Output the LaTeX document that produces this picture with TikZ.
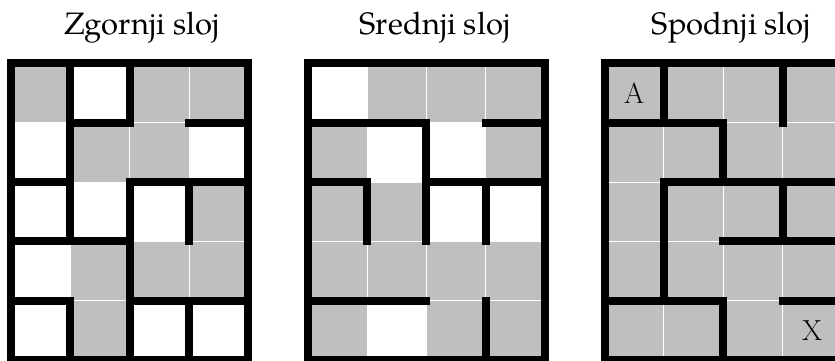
\documentclass[tikz,border=0pt]{standalone}
\usepackage{fontspec}
\newfontfamily\titlefont{texgyrepagella-regular.otf}
\definecolor{cellgray}{RGB}{191,191,191}
\tikzset{
  cellfill/.style={fill=cellgray, draw=white, line width=0.9pt},
  wall/.style={line width=8pt, line cap=rect, draw=black},
  border/.style={line width=8pt, line join=miter, draw=black},
  ttl/.style={anchor=base, inner sep=0pt, font=\titlefont\fontsize{31}{31}\selectfont},
  lbl/.style={inner sep=0pt, font=\fontsize{29}{29}\selectfont}
}
\newcommand{\gcell}[2]{\path[cellfill] (#1,#2) rectangle ++(1,1);}
\begin{document}
\begin{tikzpicture}[x=1pt, y=-1pt]
\useasboundingbox (0,0) rectangle (835,360);
\node[ttl] (t1) at (142,34.5) {Zgornji sloj};
\node[ttl] (t2) at (435,34.5) {Srednji sloj};
\node[ttl] (t3) at (731.5,34.5) {Spodnji sloj};
% Grid 1
\begin{scope}[shift={(11,63.3)}, x=59.35pt, y=-59.35pt]
  \foreach \c/\r in {0/0,2/0,3/0,1/1,2/1,3/2,1/3,2/3,3/3,1/4} {\gcell{\c}{\r}}
  \draw[wall] (1,0)--(1,3) (1,4)--(1,5)
              (2,0)--(2,1) (2,2)--(2,5)
              (3,2)--(3,3) (3,4)--(3,5)
              (1,1)--(2,1) (3,1)--(4,1)
              (0,2)--(1,2) (2,2)--(4,2)
              (0,3)--(2,3)
              (0,4)--(1,4) (2,4)--(4,4);
  \draw[border] (0,0) rectangle (4,5);
\end{scope}
% Grid 2
\begin{scope}[shift={(307.75,63.3)}, x=59.35pt, y=-59.35pt]
  \foreach \c/\r in {1/0,2/0,3/0,0/1,3/1,0/2,1/2,0/3,1/3,2/3,3/3,0/4,2/4,3/4} {\gcell{\c}{\r}}
  \draw[wall] (0,1)--(2,1) (3,1)--(4,1)
              (2,1)--(2,3)
              (0,2)--(1,2) (2,2)--(4,2)
              (1,2)--(1,3) (3,2)--(3,3)
              (0,4)--(2,4)
              (3,4)--(3,5);
  \draw[border] (0,0) rectangle (4,5);
\end{scope}
% Grid 3
\begin{scope}[shift={(604.5,63.3)}, x=59.35pt, y=-59.35pt]
  \foreach \c in {0,...,3} {\foreach \r in {0,...,4} {\gcell{\c}{\r}}}
  \draw[wall] (1,0)--(1,1) (3,0)--(3,1)
              (0,1)--(2,1)
              (2,1)--(2,2)
              (1,2)--(4,2)
              (1,2)--(1,4)
              (3,2)--(3,3)
              (2,3)--(4,3)
              (0,4)--(2,4) (3,4)--(4,4)
              (2,4)--(2,5);
  \draw[border] (0,0) rectangle (4,5);
  \node[lbl] (a) at (0.5,0.5) {A};
  \node[lbl] (x) at (3.5,4.5) {X};
\end{scope}
\end{tikzpicture}
\end{document}
